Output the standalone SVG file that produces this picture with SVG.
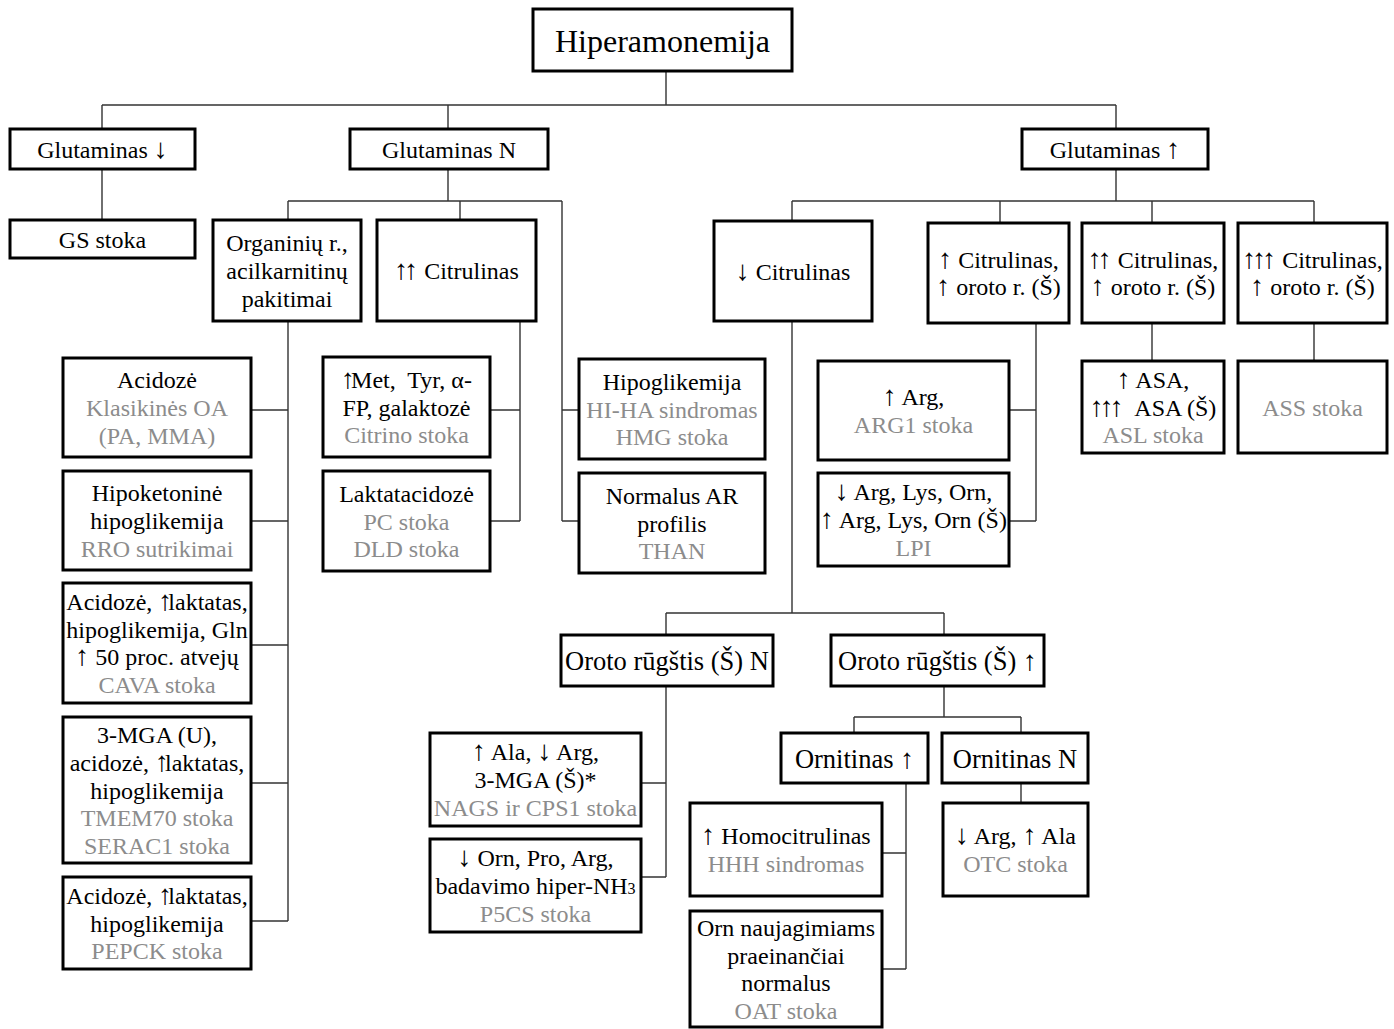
<svg xmlns="http://www.w3.org/2000/svg" width="1394" height="1029" viewBox="0 0 1394 1029">
<style>
.box{fill:#fff;stroke:#000;stroke-width:3}
text{font-family:"Liberation Serif","Times New Roman",serif;font-size:24px;text-anchor:middle;fill:#000}
.big{font-size:32px}
.mid{font-size:26.5px}
.g{fill:#8c8c8c}
.a{font-size:28px}
.aa{font-size:28px;letter-spacing:-4px}
#connectors path{stroke:#333;stroke-width:1.4;fill:none}
</style>
<rect width="1394" height="1029" fill="#fff"/>
<g id="connectors">
<path d="M666,71V105M102,105H1116M102,105V129M448,105V129M1116,105V129"/>
<path d="M102,169V220"/>
<path d="M448,169V201M288,201H562M288,201V220M460,201V220M562,201V521M562,410H579M562,521H579"/>
<path d="M288,321V921M251,410H288M251,521H288M251,645H288M251,783H288M251,921H288"/>
<path d="M520,321V521M490,410H520M490,521H520"/>
<path d="M1116,169V201M792,201H1314M792,201V221M1000,201V223M1152,201V223M1314,201V223"/>
<path d="M792,321V613M666,613H944M666,613V635M944,613V635"/>
<path d="M1036,323V521M1009,410H1036M1009,521H1036"/>
<path d="M1152,323V361M1314,323V361"/>
<path d="M666,686V877M641,783H666M641,877H666"/>
<path d="M944,686V717M854,717H1021M854,717V733M1021,717V733"/>
<path d="M906,783V969M882,853H906M882,969H906"/>
<path d="M1021,783V803"/>
</g>
<g id="root"><rect class="box" x="533" y="9" width="259" height="62"/><text class="big" x="662.5" y="51.5">Hiperamonemija</text></g>
<g id="glutDown"><rect class="box" x="10" y="129" width="185" height="40"/><text x="102.5" y="157.5">Glutaminas <tspan class="a">↓</tspan></text></g>
<g id="glutN"><rect class="box" x="350" y="129" width="198" height="40"/><text x="449" y="157.5">Glutaminas N</text></g>
<g id="glutUp"><rect class="box" x="1022" y="129" width="186" height="40"/><text x="1115" y="157.5">Glutaminas <tspan class="a">↑</tspan></text></g>
<g id="gs"><rect class="box" x="10" y="220" width="185" height="38"/><text x="102.5" y="247.5">GS stoka</text></g>
<g id="organic"><rect class="box" x="213" y="220" width="148" height="101"/><text x="287" y="251.4">Organinių r.,<tspan x="287" y="279">acilkarnitinų</tspan><tspan x="287" y="306.6">pakitimai</tspan></text></g>
<g id="cit2"><rect class="box" x="377" y="220" width="159" height="101"/><text x="456.5" y="279"><tspan class="aa">↑</tspan><tspan class="a">↑</tspan> Citrulinas</text></g>
<g id="acid"><rect class="box" x="63" y="358" width="188" height="99"/><text x="157" y="388.4">Acidozė<tspan class="g" x="157" y="416">Klasikinės OA</tspan><tspan class="g" x="157" y="443.6">(PA, MMA)</tspan></text></g>
<g id="hipoket"><rect class="box" x="63" y="471" width="188" height="99"/><text x="157" y="501.4">Hipoketoninė<tspan x="157" y="529">hipoglikemija</tspan><tspan class="g" x="157" y="556.6">RRO sutrikimai</tspan></text></g>
<g id="cava"><rect class="box" x="63" y="583" width="188" height="120"/><text x="157" y="610.1">Acidozė, <tspan class="aa">↑</tspan>laktatas,<tspan x="157" y="637.7">hipoglikemija, Gln</tspan><tspan x="157" y="665.3"><tspan class="a">↑</tspan> 50 proc. atvejų</tspan><tspan class="g" x="157" y="692.9">CAVA stoka</tspan></text></g>
<g id="tmem"><rect class="box" x="63" y="717" width="188" height="146"/><text x="157" y="743.3">3-MGA (U),<tspan x="157" y="770.9">acidozė, <tspan class="aa">↑</tspan>laktatas,</tspan><tspan x="157" y="798.5">hipoglikemija</tspan><tspan class="g" x="157" y="826.1">TMEM70 stoka</tspan><tspan class="g" x="157" y="853.7">SERAC1 stoka</tspan></text></g>
<g id="pepck"><rect class="box" x="63" y="877" width="188" height="92"/><text x="157" y="903.9">Acidozė, <tspan class="aa">↑</tspan>laktatas,<tspan x="157" y="931.5">hipoglikemija</tspan><tspan class="g" x="157" y="959.1">PEPCK stoka</tspan></text></g>
<g id="citrin"><rect class="box" x="323" y="357" width="167" height="100"/><text x="406.5" y="387.9" xml:space="preserve"><tspan class="aa">↑</tspan>Met,  Tyr, α-<tspan x="406.5" y="415.5">FP, galaktozė</tspan><tspan class="g" x="406.5" y="443.1">Citrino stoka</tspan></text></g>
<g id="lakt"><rect class="box" x="323" y="471" width="167" height="100"/><text x="406.5" y="501.9">Laktatacidozė<tspan class="g" x="406.5" y="529.5">PC stoka</tspan><tspan class="g" x="406.5" y="557.1">DLD stoka</tspan></text></g>
<g id="hipogl"><rect class="box" x="579" y="359" width="186" height="100"/><text x="672" y="389.9">Hipoglikemija<tspan class="g" x="672" y="417.5">HI-HA sindromas</tspan><tspan class="g" x="672" y="445.1">HMG stoka</tspan></text></g>
<g id="normal"><rect class="box" x="579" y="473" width="186" height="100"/><text x="672" y="503.9">Normalus AR<tspan x="672" y="531.5">profilis</tspan><tspan class="g" x="672" y="559.1">THAN</tspan></text></g>
<g id="citDown"><rect class="box" x="714" y="221" width="158" height="100"/><text x="793" y="279.5"><tspan class="a">↓</tspan> Citrulinas</text></g>
<g id="cit1o"><rect class="box" x="928" y="223" width="141" height="100"/><text x="998.5" y="267.7"><tspan class="a">↑</tspan> Citrulinas,<tspan x="998.5" y="295.3"><tspan class="a">↑</tspan> oroto r. (Š)</tspan></text></g>
<g id="cit2o"><rect class="box" x="1082" y="223" width="142" height="100"/><text x="1153" y="267.7"><tspan class="aa">↑</tspan><tspan class="a">↑</tspan> Citrulinas,<tspan x="1153" y="295.3"><tspan class="a">↑</tspan> oroto r. (Š)</tspan></text></g>
<g id="cit3o"><rect class="box" x="1238" y="223" width="149" height="100"/><text x="1312.5" y="267.7"><tspan class="aa">↑↑</tspan><tspan class="a">↑</tspan> Citrulinas,<tspan x="1312.5" y="295.3"><tspan class="a">↑</tspan> oroto r. (Š)</tspan></text></g>
<g id="arg1"><rect class="box" x="818" y="361" width="191" height="99"/><text x="913.5" y="405.2"><tspan class="a">↑</tspan> Arg,<tspan class="g" x="913.5" y="432.8">ARG1 stoka</tspan></text></g>
<g id="lpi"><rect class="box" x="818" y="473" width="191" height="93"/><text x="913.5" y="500.4"><tspan class="a">↓</tspan> Arg, Lys, Orn,<tspan x="913.5" y="528"><tspan class="a">↑</tspan> Arg, Lys, Orn (Š)</tspan><tspan class="g" x="913.5" y="555.6">LPI</tspan></text></g>
<g id="asl"><rect class="box" x="1082" y="361" width="142" height="92"/><text x="1153" y="387.9" xml:space="preserve"><tspan class="a">↑</tspan> ASA,<tspan x="1153" y="415.5"><tspan class="aa">↑↑</tspan><tspan class="a">↑</tspan>  ASA (Š)</tspan><tspan class="g" x="1153" y="443.1">ASL stoka</tspan></text></g>
<g id="ass"><rect class="box" x="1238" y="361" width="149" height="92"/><text class="g" x="1312.5" y="415.5">ASS stoka</text></g>
<g id="orotN"><rect class="box" x="561" y="635" width="212" height="51"/><text class="mid" x="667" y="670">Oroto rūgštis (Š) N</text></g>
<g id="orotUp"><rect class="box" x="831" y="635" width="213" height="51"/><text class="mid" x="937.5" y="670">Oroto rūgštis (Š) <tspan class="a">↑</tspan></text></g>
<g id="nags"><rect class="box" x="430" y="733" width="211" height="93"/><text x="535.5" y="760.4"><tspan class="a">↑</tspan> Ala, <tspan class="a">↓</tspan> Arg,<tspan x="535.5" y="788">3-MGA (Š)*</tspan><tspan class="g" x="535.5" y="815.6">NAGS ir CPS1 stoka</tspan></text></g>
<g id="p5cs"><rect class="box" x="430" y="839" width="211" height="93"/><text x="535.5" y="866.4"><tspan class="a">↓</tspan> Orn, Pro, Arg,<tspan x="535.5" y="894">badavimo hiper-NH<tspan font-size="16">3</tspan></tspan><tspan class="g" x="535.5" y="921.6">P5CS stoka</tspan></text></g>
<g id="ornUp"><rect class="box" x="781" y="733" width="147" height="50"/><text class="mid" x="854.5" y="767.5">Ornitinas <tspan class="a">↑</tspan></text></g>
<g id="ornN"><rect class="box" x="942" y="733" width="146" height="50"/><text class="mid" x="1015" y="767.5">Ornitinas N</text></g>
<g id="hhh"><rect class="box" x="690" y="803" width="192" height="93"/><text x="786" y="844.2"><tspan class="a">↑</tspan> Homocitrulinas<tspan class="g" x="786" y="871.8">HHH sindromas</tspan></text></g>
<g id="oat"><rect class="box" x="690" y="911" width="192" height="116"/><text x="786" y="936.1">Orn naujagimiams<tspan x="786" y="963.7">praeinančiai</tspan><tspan x="786" y="991.3">normalus</tspan><tspan class="g" x="786" y="1018.9">OAT stoka</tspan></text></g>
<g id="otc"><rect class="box" x="943" y="803" width="145" height="93"/><text x="1015.5" y="844.2"><tspan class="a">↓</tspan> Arg, <tspan class="a">↑</tspan> Ala<tspan class="g" x="1015.5" y="871.8">OTC stoka</tspan></text></g>
</svg>
